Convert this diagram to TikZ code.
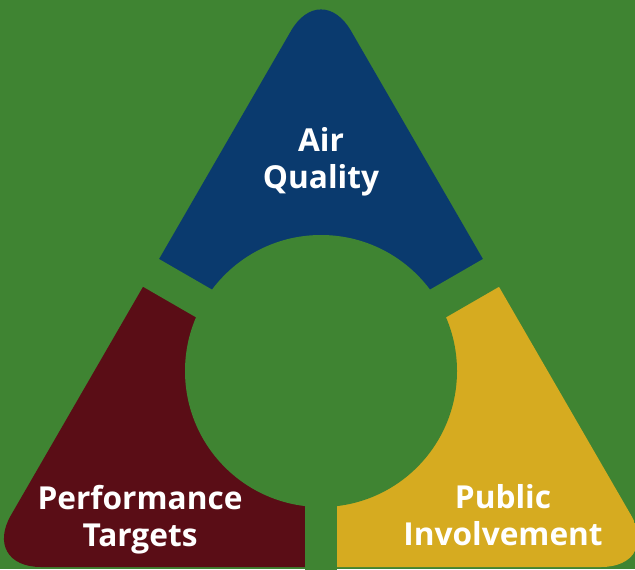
\documentclass[tikz,border=0pt]{standalone}
\usepackage{fontspec}
\setmainfont{Open Sans}
\definecolor{bggreen}{RGB}{63,132,50}
\definecolor{airblue}{RGB}{10,58,110}
\definecolor{perfred}{RGB}{90,13,22}
\definecolor{pubyellow}{RGB}{214,171,32}

\begin{document}
\begin{tikzpicture}[x=0.02cm,y=0.02cm,
  lbl/.style={text=white,font=\fontsize{18}{21}\selectfont\bfseries,align=center}]
\useasboundingbox (0,0) rectangle (635,569);
\fill[bggreen] (0,0) rectangle (635,569);
\coordinate (c) at (321,198);

\begin{scope}
\clip[rounded corners=1.2cm] (-19,2) -- (321,590) -- (661,2) -- cycle;
\foreach \a/\col in {30/airblue,150/perfred,270/pubyellow}{
	\fill[\col] (c) -- +(\a:800) -- +(\a+60:800) -- +(\a+120:800) -- cycle;
}
\end{scope}

% hole and gaps
\fill[bggreen] (c) circle (136);
\foreach \a in {30,150,270}{
	\draw[bggreen, line width=0.64cm] (c) -- +(\a:800);
}

\node[lbl] (air) at (321,407) {Air\\Quality};
\node[lbl] (perf) at (140,49) {Performance\\Targets};
\node[lbl] (pub) at (503,54) {Public\\Involvement};

\end{tikzpicture}
\end{document}
